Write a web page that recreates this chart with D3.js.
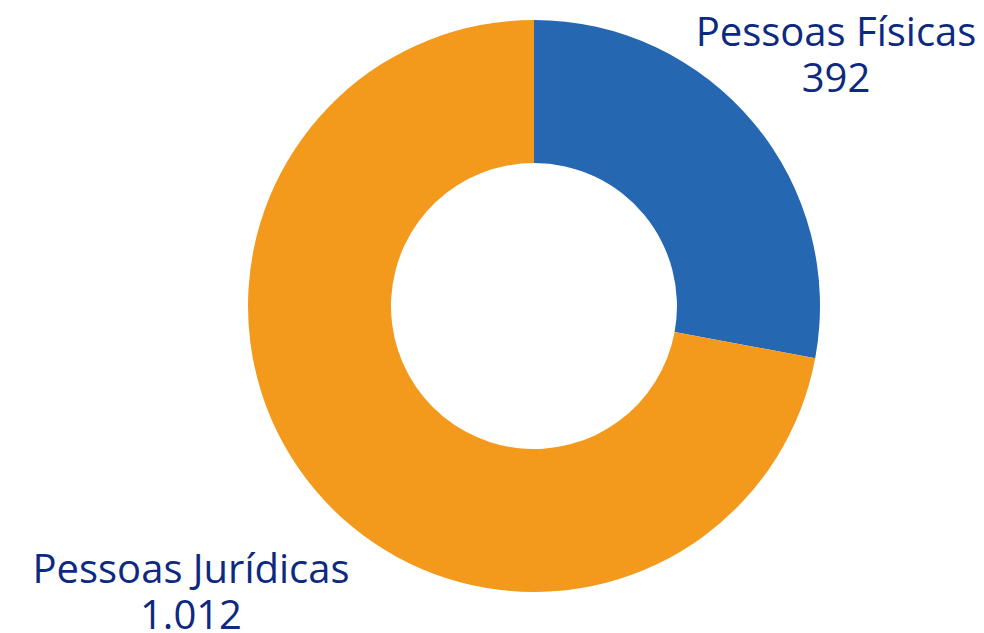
<!DOCTYPE html>
<html>
<head>
<meta charset="utf-8">
<script src="https://cdn.jsdelivr.net/npm/d3@7"></script>
<style>
  html, body { margin: 0; padding: 0; background: #ffffff; }
  svg { display: block; }
</style>
</head>
<body>
<div id="chart"></div>
<script>
// data
const categories = ["Pessoas Físicas", "Pessoas Jurídicas"];
const values = [392, 1012];
const valueLabels = ["392", "1.012"];
const colors = ["#2567b0", "#f39a1c"];

const width = 984, height = 633;
const cx = 534, cy = 306;
const outerR = 286, innerR = 143;

const svg = d3.select("#chart").append("svg")
  .attr("width", width)
  .attr("height", height);

const pie = d3.pie().sort(null).value(d => d.value);
const arc = d3.arc().innerRadius(innerR).outerRadius(outerR);

const data = categories.map((c, i) => ({ name: c, value: values[i], label: valueLabels[i], color: colors[i] }));

const g = svg.append("g").attr("transform", `translate(${cx},${cy})`);

g.selectAll("path.slice")
  .data(pie(data))
  .enter().append("path")
  .attr("class", "slice")
  .attr("d", arc)
  .attr("fill", d => d.data.color);

// labels placed outside the ring
const labelPos = [
  { x: 836, y: 46 },
  { x: 191, y: 583 }
];

const labels = svg.selectAll("g.label")
  .data(data)
  .enter().append("g")
  .attr("class", "label")
  .attr("transform", (d, i) => `translate(${labelPos[i].x},${labelPos[i].y})`);

labels.append("text")
  .attr("text-anchor", "middle")
  .attr("font-family", "'Open Sans', sans-serif")
  .attr("font-size", 40)
  .attr("fill", "#0d2a80")
  .text(d => d.name);

labels.append("text")
  .attr("y", 46)
  .attr("text-anchor", "middle")
  .attr("font-family", "'Open Sans', sans-serif")
  .attr("font-size", 40)
  .attr("fill", "#0d2a80")
  .text(d => d.label);
</script>
</body>
</html>
